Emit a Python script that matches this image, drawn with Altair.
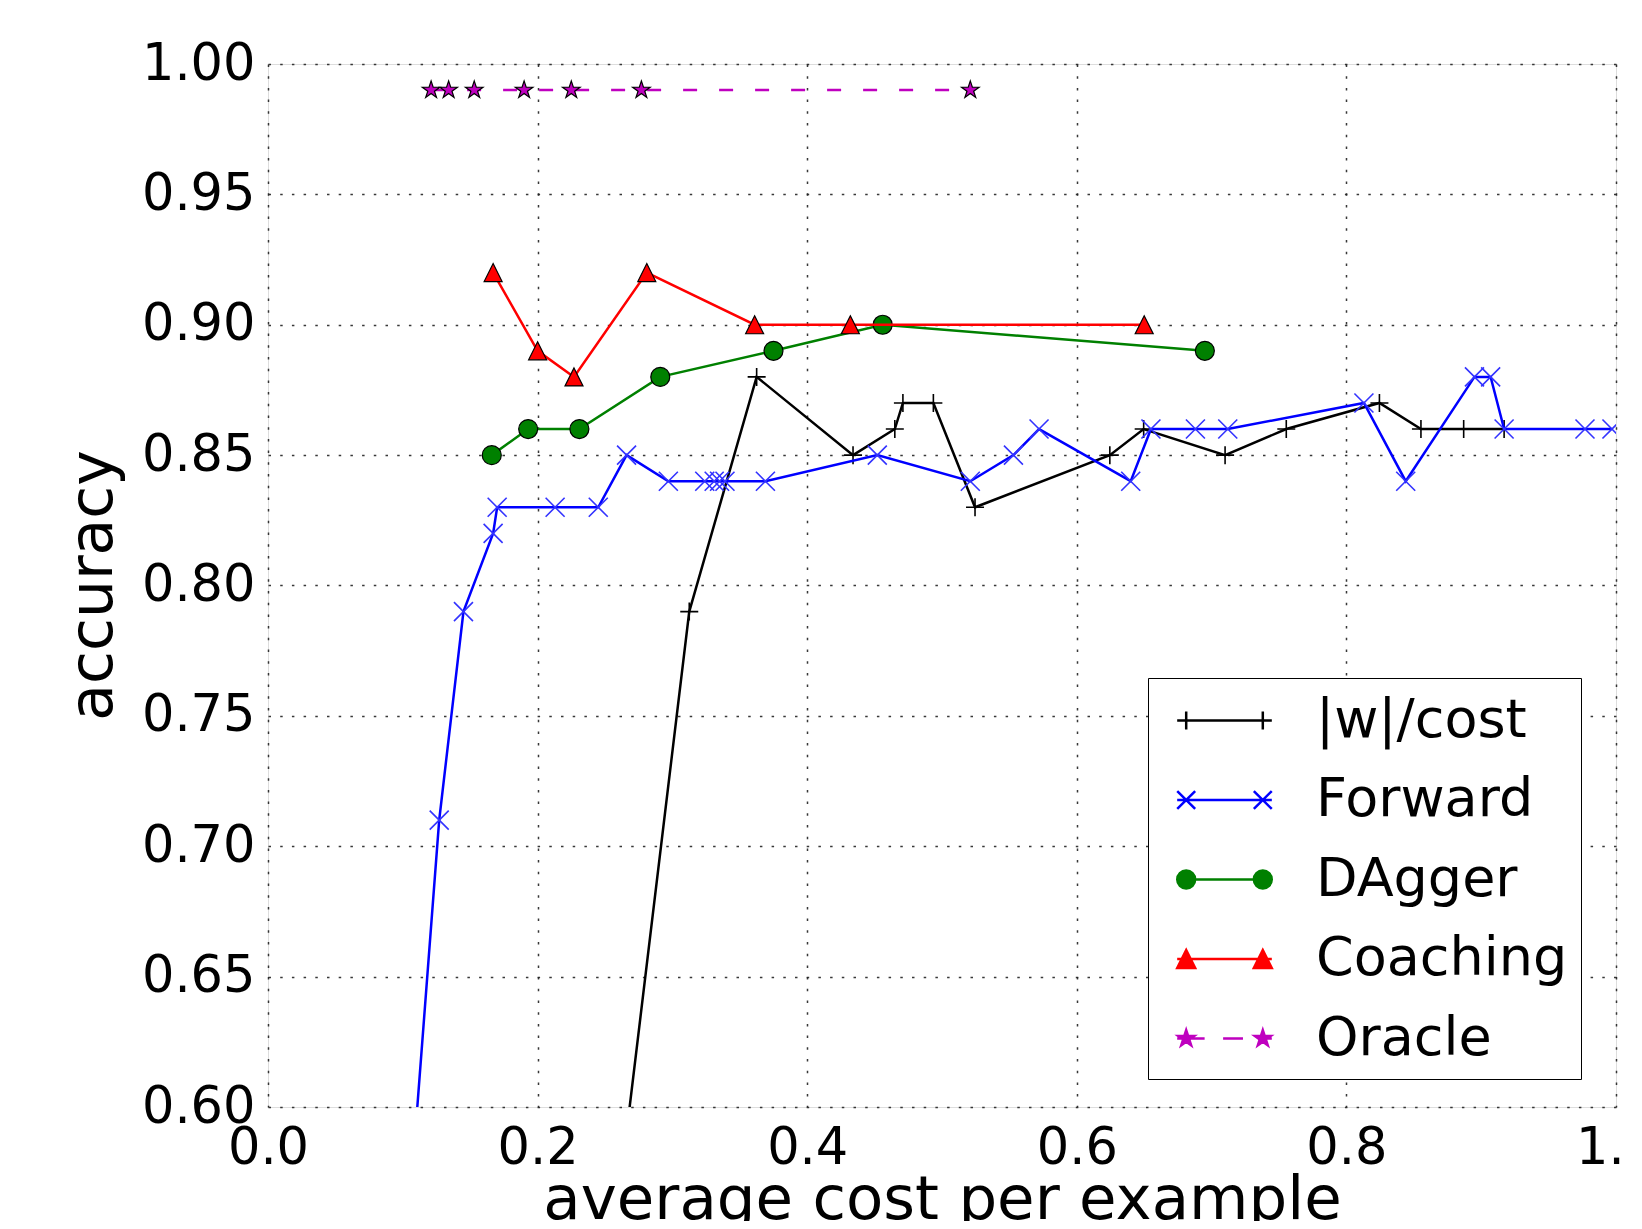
import altair as alt
import numpy as np
import pandas as pd

series_names = ["|w|/cost", "Forward", "DAgger", "Coaching", "Oracle"]

wcost_x = [0.245, 0.3125, 0.3625, 0.434, 0.465, 0.471, 0.4936, 0.5245, 0.6245, 0.6496,
           0.710, 0.7554, 0.8245, 0.8553, 0.887, 0.917]
wcost_y = [0.50, 0.79, 0.88, 0.85, 0.86, 0.87, 0.87, 0.83, 0.85, 0.86,
           0.85, 0.86, 0.87, 0.86, 0.86, 0.86]

forward_x = [0.096, 0.127, 0.145, 0.167, 0.170, 0.213, 0.245, 0.266, 0.297, 0.324,
             0.331, 0.335, 0.339, 0.369, 0.452, 0.521, 0.553, 0.572, 0.640, 0.655,
             0.688, 0.712, 0.813, 0.844, 0.895, 0.907, 0.917, 0.977, 0.997]
forward_y = [0.50, 0.71, 0.79, 0.82, 0.83, 0.83, 0.83, 0.85, 0.84, 0.84,
             0.84, 0.84, 0.84, 0.84, 0.85, 0.84, 0.85, 0.86, 0.84, 0.86,
             0.86, 0.86, 0.87, 0.84, 0.88, 0.88, 0.86, 0.86, 0.86]

dagger_x = [0.166, 0.193, 0.231, 0.291, 0.375, 0.456, 0.695]
dagger_y = [0.85, 0.86, 0.86, 0.88, 0.89, 0.90, 0.89]

coaching_x = [0.167, 0.200, 0.227, 0.281, 0.361, 0.432, 0.650]
coaching_y = [0.92, 0.89, 0.88, 0.92, 0.90, 0.90, 0.90]

oracle_x = [0.121, 0.134, 0.153, 0.190, 0.225, 0.277, 0.521]
oracle_y = [0.99, 0.99, 0.99, 0.99, 0.99, 0.99, 0.99]

x_ticks = [0.0, 0.2, 0.4, 0.6, 0.8, 1.0]
y_ticks = [0.60, 0.65, 0.70, 0.75, 0.80, 0.85, 0.90, 0.95, 1.00]

series_data = [
    ("|w|/cost", wcost_x, wcost_y),
    ("Forward", forward_x, forward_y),
    ("DAgger", dagger_x, dagger_y),
    ("Coaching", coaching_x, coaching_y),
    ("Oracle", oracle_x, oracle_y),
]
df = pd.concat([pd.DataFrame({"cost": xs, "accuracy": ys, "series": n})
                for n, xs, ys in series_data], ignore_index=True)

FONT = "DejaVu Sans"
line_colors = ["#000000", "#0000ff", "#008000", "#ff0000", "#bf00bf"]


# ---- marker path helpers (unit square -1..1) ----
def f(v):
    return f"{v:.3f}"


def plus_path(cx, r):
    return f"M{f(cx - r)},0L{f(cx + r)},0M{f(cx)},{f(-r)}L{f(cx)},{f(r)}"


def x_path(cx, r):
    return (f"M{f(cx - r)},{f(-r)}L{f(cx + r)},{f(r)}"
            f"M{f(cx - r)},{f(r)}L{f(cx + r)},{f(-r)}")


def circle_path(cx, r):
    return (f"M{f(cx - r)},0A{f(r)},{f(r)} 0 1,0 {f(cx + r)},0"
            f"A{f(r)},{f(r)} 0 1,0 {f(cx - r)},0Z")


def tri_path(cx, r):
    return f"M{f(cx)},{f(-r)}L{f(cx + r)},{f(r)}L{f(cx - r)},{f(r)}Z"


def star_path(cx, r):
    pts = []
    for i in range(10):
        ang = -np.pi / 2 + i * np.pi / 5
        rr = r if i % 2 == 0 else r * 0.382
        pts.append((cx + rr * np.cos(ang), rr * np.sin(ang)))
    return "M" + "L".join(f"{f(a)},{f(b)}" for a, b in pts) + "Z"


# legend symbols: line with a marker at each end (1 unit = 28 px)
c = 1.368
e = 1.69
mr = 0.32
legend_paths = [
    f"M{-e},0L{e},0" + plus_path(-c, mr) + plus_path(c, mr),
    f"M{-e},0L{e},0" + x_path(-c, mr) + x_path(c, mr),
    f"M{-e},0L{e},0" + circle_path(-c, mr) + circle_path(c, mr),
    f"M{-e},0L{e},0" + tri_path(-c, mr) + tri_path(c, mr),
    f"M{-e},0L-0.71,0M-0.05,0L0.66,0M1.25,0L{e},0" + star_path(-c, 0.30) + star_path(c, 0.30),
]

x_scale = alt.Scale(domain=[0, 1], nice=False, zero=False)
y_scale = alt.Scale(domain=[0.6, 1.0], nice=False, zero=False)

x_axis = alt.Axis(
    title="average cost per example", values=x_ticks, format=".1f",
    labelFlush=False, labelOverlap=False, ticks=False, tickSize=0, domain=False,
    labelFont=FONT, labelFontSize=51, labelColor="black", labelPadding=16,
    titleFont=FONT, titleFontSize=61, titleFontWeight="normal", titleColor="black",
    titleBaseline="alphabetic", titleY=111,
    grid=True, gridColor="#222222", gridWidth=1.5, gridDash=[2.5, 9.2], gridOpacity=0.9,
)
y_axis = alt.Axis(
    title="accuracy", values=y_ticks, format=".2f",
    labelOverlap=False, labelFlush=False, ticks=False, tickSize=0, domain=False,
    labelFont=FONT, labelFontSize=51, labelColor="black", labelPadding=13,
    titleFont=FONT, titleFontSize=60, titleFontWeight="normal", titleColor="black",
    titleAngle=270, titleBaseline="alphabetic", titleAlign="center",
    titleX=-157, titleY=521,
    grid=True, gridColor="#222222", gridWidth=1.5, gridDash=[2.5, 9.2], gridOpacity=0.9,
)

X = alt.X("cost:Q", scale=x_scale, axis=x_axis)
Y = alt.Y("accuracy:Q", scale=y_scale, axis=y_axis)

legend = alt.Legend(
    title=None, orient="none", legendX=880, legendY=614,
    labelFont=FONT, labelFontSize=54, labelColor="black", labelOffset=62,
    symbolSize=3136, symbolStrokeWidth=2.5, symbolOffset=34, rowPadding=22.5, padding=13,
    fillColor="white", strokeColor="black", cornerRadius=0,
    labelLimit=600,
)

legend_layer = alt.Chart(df).transform_filter("false").mark_point(
    filled=True, opacity=1
).encode(
    x=X, y=Y,
    shape=alt.Shape("series:N", scale=alt.Scale(domain=series_names, range=legend_paths), legend=legend),
    fill=alt.Fill("series:N", scale=alt.Scale(domain=series_names, range=line_colors), legend=legend),
    stroke=alt.Stroke("series:N", scale=alt.Scale(domain=series_names, range=line_colors), legend=legend),
)

marker_styles = {
    "|w|/cost": dict(shape=plus_path(0, 1), size=324, filled=False, stroke="#000000", strokeWidth=1.6),
    "Forward": dict(shape=x_path(0, 1), size=361, filled=False, stroke="#3333ff", strokeWidth=1.6),
    "DAgger": dict(shape="circle", size=361, filled=True, fill="#008000", stroke="#000000", strokeWidth=1.2),
    "Coaching": dict(shape=tri_path(0, 1), size=324, filled=True, fill="#ff0000", stroke="#000000", strokeWidth=1.2),
    "Oracle": dict(shape=star_path(0, 1), size=340, filled=True, fill="#bf00bf", stroke="#000000", strokeWidth=1.2),
}

layers = [legend_layer]
for name, col in zip(series_names, line_colors):
    base = alt.Chart(df).transform_filter(alt.datum.series == name)
    line_kwargs = dict(color=col, strokeWidth=2.5, clip=True)
    if name == "Oracle":
        line_kwargs["strokeDash"] = [14, 22]
    layers.append(base.mark_line(**line_kwargs).encode(x=X, y=Y))
    layers.append(base.mark_point(opacity=1, clip=True, **marker_styles[name]).encode(x=X, y=Y))

chart = alt.layer(*layers).properties(
    width=1348, height=1043,
    autosize=alt.AutoSizeParams(type="none"),
    padding={"left": 260, "top": 56, "right": 10, "bottom": 114},
).configure_view(
    stroke="black", strokeWidth=2.5
).configure_legend(
    strokeWidth=2.5
).configure(background="white")

chart.save("out.html", embed_options={"renderer": "svg", "actions": False})
